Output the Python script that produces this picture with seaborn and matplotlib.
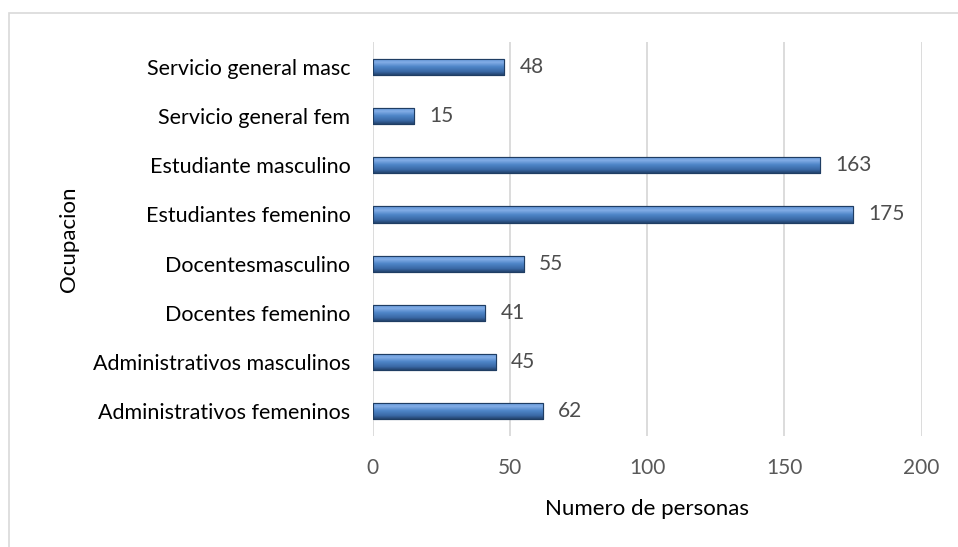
import matplotlib
matplotlib.use("Agg")
import matplotlib.pyplot as plt
import seaborn as sns
import pandas as pd
import numpy as np
from matplotlib.colors import LinearSegmentedColormap
from matplotlib.patches import Rectangle

# data (top to bottom)
ocupaciones = [
    "Servicio general masc",
    "Servicio general fem",
    "Estudiante masculino",
    "Estudiantes femenino",
    "Docentesmasculino",
    "Docentes femenino",
    "Administrativos masculinos",
    "Administrativos femeninos",
]
personas = [48, 15, 163, 175, 55, 41, 45, 62]
x_ticks = [0, 50, 100, 150, 200]

df = pd.DataFrame({"Ocupacion": ocupaciones, "Personas": personas})

sns.set_theme(style="white")
plt.rcParams["font.family"] = ["Lato", "DejaVu Sans"]

fig = plt.figure(figsize=(9.58, 5.47), dpi=100)
ax = fig.add_axes([0.389, 0.203, 0.573, 0.720])

sns.barplot(data=df, x="Personas", y="Ocupacion", orient="h", width=0.33,
            color="#4f86c8", edgecolor="#1f3d63", linewidth=0.8, ax=ax)

# bevel-like vertical gradient inside each bar
grad = LinearSegmentedColormap.from_list(
    "bevel", [(0.0, "#24446e"), (0.2, "#3a69a6"), (0.5, "#4f86c8"),
              (0.75, "#82ade6"), (1.0, "#5f92d4")])
gimg = np.linspace(0, 1, 64).reshape(-1, 1)
for p in list(ax.patches):
    x0, y0 = p.get_x(), p.get_y()
    w, h = p.get_width(), p.get_height()
    im = ax.imshow(gimg, cmap=grad, aspect="auto", origin="lower",
                   extent=[x0, x0 + w, y0 + h, y0], zorder=p.get_zorder() + 0.1)
    im.set_clip_path(p)
    ax.add_patch(Rectangle((x0, y0), w, h, fill=False, edgecolor="#1f3d63",
                           linewidth=0.8, zorder=p.get_zorder() + 0.2))

ax.set_xlim(0, 200)
ax.set_xticks(x_ticks)
ax.set_xticklabels([str(t) for t in x_ticks])
ax.set_ylim(len(ocupaciones) - 0.5, -0.5)
ax.grid(axis="x", color="#d9d9d9", linewidth=1.3)
ax.grid(axis="y", visible=False)
ax.set_axisbelow(True)
for s in ax.spines.values():
    s.set_visible(False)

ax.tick_params(axis="x", length=0, pad=16, labelsize=15, labelcolor="#595959")
ax.tick_params(axis="y", length=0, pad=16, labelsize=15.5, labelcolor="#000000")

for i, v in enumerate(personas):
    ax.text(v + 5.5, i, str(v), va="center", ha="left", fontsize=15, color="#4d4d4d")

ax.set_xlabel("Numero de personas", fontsize=16, color="#000000", labelpad=15)
ax.set_ylabel("Ocupacion", fontsize=16, color="#000000", labelpad=10)

# light chart frame (extends past the right and bottom edges)
fig.patches.append(Rectangle((9 / 958, -0.05), 1.2, 1 - 13 / 547 + 0.05,
                             transform=fig.transFigure, fill=False,
                             edgecolor="#d9d9d9", linewidth=1.2))

fig.savefig("out.png", dpi=100)
